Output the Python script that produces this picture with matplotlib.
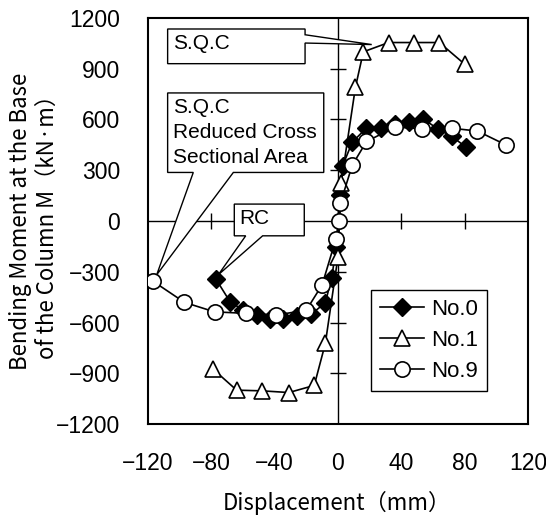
import numpy as np
import matplotlib
matplotlib.use('Agg')
from matplotlib import pyplot as plt

plt.rcParams['font.family'] = ['Liberation Sans', 'DejaVu Sans']
jp = ['Noto Sans CJK JP', 'DejaVu Sans']

# No.0 (diamonds)
no0_x = [-77, -68, -60, -51, -43, -35, -26, -17, -8, -4, -1, 1, 3, 9, 18, 27, 36, 45, 54, 63, 72, 81]
no0_y = [-345, -480, -525, -558, -582, -582, -562, -552, -483, -335, -152,
         155, 328, 466, 550, 548, 575, 584, 603, 544, 500, 435]

# No.1 (triangles)
no1_x = [-79, -64, -48, -31, -15, -8, 0, 2, 11, 16, 32, 48, 64, 80]
no1_y = [-875, -1000, -1004, -1014, -972, -724, -211, 227, 790, 1000, 1055, 1055, 1055, 927]

# No.9 (circles)
no9_x = [-117, -97, -78, -58, -39, -20, -10, -1.3, 0.8, 1.5, 9, 18, 36, 53, 72, 88, 106]
no9_y = [-355, -481, -537, -546, -556, -527, -377, -105, 0, 104, 330, 470, 555, 545, 548, 532, 450]

xticks = [-120, -80, -40, 0, 40, 80, 120]
yticks = [-1200, -900, -600, -300, 0, 300, 600, 900, 1200]
xmarks = [-80, -40, 40, 80]
ymarks = [-900, -600, -300, 300, 600, 900]

fig = plt.figure(figsize=(5.46, 5.17), dpi=100)
ax = fig.add_axes([148/546, 1-424/517, 380/546, 406/517])

ax.axhline(0, color='black', lw=1, zorder=1)
ax.axvline(0, color='black', lw=1, zorder=1)
ax.plot(xmarks, [0]*len(xmarks), ls='none', marker='|', ms=12, mew=1, color='black', zorder=1)
ax.plot([0]*len(ymarks), ymarks, ls='none', marker='_', ms=12, mew=1, color='black', zorder=1)

# callout boxes (white, black edge)
def callout(box, base, tip, text_xy, text, z=2):
    x0, x1, y0, y1 = box
    side, b0, b1 = base
    if side == 'bottom':
        pts = [(x0, y0), (b0, y0), tip, (b1, y0), (x1, y0), (x1, y1), (x0, y1)]
    else:  # right
        pts = [(x0, y0), (x1, y0), (x1, b0), tip, (x1, b1), (x1, y1), (x0, y1)]
    xs = [p[0] for p in pts]
    ys = [p[1] for p in pts]
    ax.fill(xs, ys, facecolor='white', edgecolor='black', lw=1, zorder=z)
    ax.text(text_xy[0], text_xy[1], text, fontsize=15, va='center', ha='left',
            linespacing=1.4, zorder=z + 0.1)

callout((-107.6, -20.8, 930, 1135), ('right', 1052, 1101), (21.3, 1043), (-104.4, 1050), 'S.Q.C')
callout((-107.6, -9.0, 287, 757), ('bottom', -91.4, -66.1), (-114.5, -318), (-104.4, 522),
        'S.Q.C\nReduced Cross\nSectional Area')
callout((-65.5, -21.3, -87.6, 100), ('bottom', -58.3, -47.6), (-75.6, -318), (-62.3, 14), 'RC')

ax.plot(no0_x, no0_y, color='black', lw=1.2, marker='D', ms=9.5, mfc='black', mec='black',
        label='No.0', zorder=3)
ax.plot(no1_x, no1_y, color='black', lw=1.2, marker='^', ms=12, mfc='white', mec='black',
        mew=1.2, label='No.1', zorder=3)
ax.plot(no9_x, no9_y, color='black', lw=1.2, marker='o', ms=11, mfc='white', mec='black',
        mew=1.2, label='No.9', zorder=4)

ax.set_xlim(-120, 120)
ax.set_ylim(-1200, 1200)
ax.set_xticks(xticks)
ax.set_yticks(yticks)
ax.set_xticklabels([str(v).replace('-', '\u2212') for v in xticks], fontsize=16.5)
ax.set_yticklabels([str(v).replace('-', '\u2212') for v in yticks], fontsize=16.5)
ax.tick_params(length=0, pad=20)
ax.tick_params(axis='y', pad=20)
for s in ax.spines.values():
    s.set_linewidth(1.5)

ax.set_xlabel('Displacement\uff08mm\uff09', fontsize=16, family=jp, va='center')
ax.xaxis.set_label_coords(0.497, -0.195)
ax.set_ylabel('Bending Moment at the Base\nof the Column M\uff08kN\u00b7m\uff09', fontsize=16,
              family=jp, linespacing=1.22, va='center', multialignment='center')
ax.yaxis.set_label_coords(-0.301, 0.5)

leg = ax.legend(loc='upper left', bbox_to_anchor=(0.587, 0.330), borderaxespad=0,
                fontsize=16, frameon=True, fancybox=False, edgecolor='black',
                handlelength=2.0, handletextpad=0.3, labelspacing=0.45, borderpad=0.4)
leg.get_frame().set_linewidth(1)
leg.get_frame().set_alpha(1)

fig.savefig('out.png', dpi=100)
